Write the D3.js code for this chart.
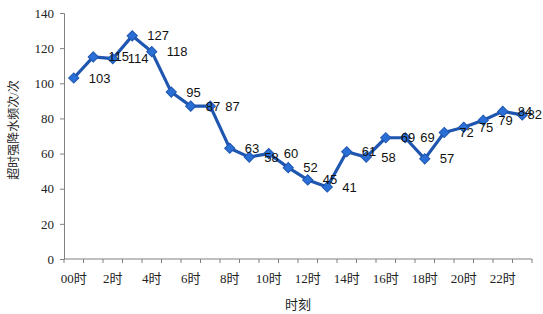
<!DOCTYPE html>
<html>
<head>
<meta charset="utf-8">
<script src="https://cdn.jsdelivr.net/npm/d3@7"></script>
<style>
  body { margin: 0; background: #fff; }
  svg { display: block; }
</style>
</head>
<body>
<div id="chart"></div>
<script>
// hours and counts
const hours = ["00时","1时","2时","3时","4时","5时","6时","7时","8时","9时","10时","11时",
               "12时","13时","14时","15时","16时","17时","18时","19时","20时","21时","22时","23时"];
const counts = [103, 115, 114, 127, 118, 95, 87, 87, 63, 58, 60, 52,
                45, 41, 61, 58, 69, 69, 57, 72, 75, 79, 84, 82];
const yTicks = [0, 20, 40, 60, 80, 100, 120, 140];
const yTitle = "超时强降水频次/次";
const xTitle = "时刻";

const width = 543, height = 314;
const margin = { top: 13, right: 11, bottom: 55, left: 64 };

const svg = d3.select("#chart").append("svg")
    .attr("width", width)
    .attr("height", height);

const x = d3.scaleBand()
    .domain(hours)
    .range([margin.left, width - margin.right]);

const y = d3.scaleLinear()
    .domain([0, 140])
    .range([height - margin.bottom, margin.top]);

const serif = "'Times New Roman', 'Liberation Serif', 'Noto Sans CJK SC', serif";

// y axis
const yAxis = svg.append("g")
    .attr("transform", `translate(${margin.left},0)`)
    .call(d3.axisLeft(y).tickValues(yTicks).tickSize(4).tickPadding(6));
yAxis.selectAll("text")
    .attr("font-family", serif)
    .attr("font-size", 13)
    .attr("fill", "#222");
yAxis.selectAll("line, path").attr("stroke", "#808080");

// x axis: ticks between categories, labels every 2 hours
const xAxis = svg.append("g")
    .attr("transform", `translate(0,${height - margin.bottom})`);
xAxis.append("line")
    .attr("x1", margin.left).attr("x2", width - margin.right)
    .attr("stroke", "#808080");
xAxis.selectAll(".tk")
    .data(hours.concat(["end"]))
    .join("line")
    .attr("class", "tk")
    .attr("x1", (d, i) => margin.left + i * x.step())
    .attr("x2", (d, i) => margin.left + i * x.step())
    .attr("y1", 0).attr("y2", 4)
    .attr("stroke", "#808080");
xAxis.selectAll(".lb")
    .data(hours.filter((d, i) => i % 2 === 0))
    .join("text")
    .attr("class", "lb")
    .attr("x", d => x(d) + x.bandwidth() / 2)
    .attr("y", 19)
    .attr("dy", "0.35em")
    .attr("text-anchor", "middle")
    .attr("font-family", serif)
    .attr("font-size", 13)
    .attr("fill", "#222")
    .text(d => d);

// titles
svg.append("text")
    .attr("x", (margin.left + width - margin.right) / 2)
    .attr("y", 304)
    .attr("dy", "0.35em")
    .attr("text-anchor", "middle")
    .attr("font-family", serif)
    .attr("font-size", 13)
    .attr("fill", "#222")
    .text(xTitle);

svg.append("text")
    .attr("transform", `translate(14,130) rotate(-90)`)
    .attr("dy", "0.35em")
    .attr("text-anchor", "middle")
    .attr("font-family", serif)
    .attr("font-size", 12)
    .attr("fill", "#222")
    .text(yTitle);

const cx = (d, i) => x(hours[i]) + x.bandwidth() / 2;

// line
svg.append("path")
    .datum(counts)
    .attr("fill", "none")
    .attr("stroke", "#1f56b0")
    .attr("stroke-width", 3.2)
    .attr("stroke-linejoin", "round")
    .attr("d", d3.line().x(cx).y(d => y(d)));

// diamond markers
svg.append("g")
    .selectAll("path")
    .data(counts)
    .join("path")
    .attr("transform", (d, i) => `translate(${cx(d, i)},${y(d)}) rotate(45)`)
    .attr("d", d3.symbol(d3.symbolSquare, 52)())
    .attr("fill", "#2a6fd6")
    .attr("stroke", "#1f56b0")
    .attr("stroke-width", 1);

// data labels, placed to the right of each point
const labels = svg.append("g")
    .selectAll("text")
    .data(counts)
    .join("text")
    .attr("y", d => y(d))
    .attr("dy", "0.35em")
    .attr("font-family", "'Liberation Sans', Arial, sans-serif")
    .attr("font-size", 13)
    .attr("fill", "#111")
    .text(d => d);
labels.each(function(d, i) {
    const w = this.getComputedTextLength();
    this.setAttribute("x", Math.min(cx(d, i) + 15, width - 1 - w));
});
</script>
</body>
</html>
